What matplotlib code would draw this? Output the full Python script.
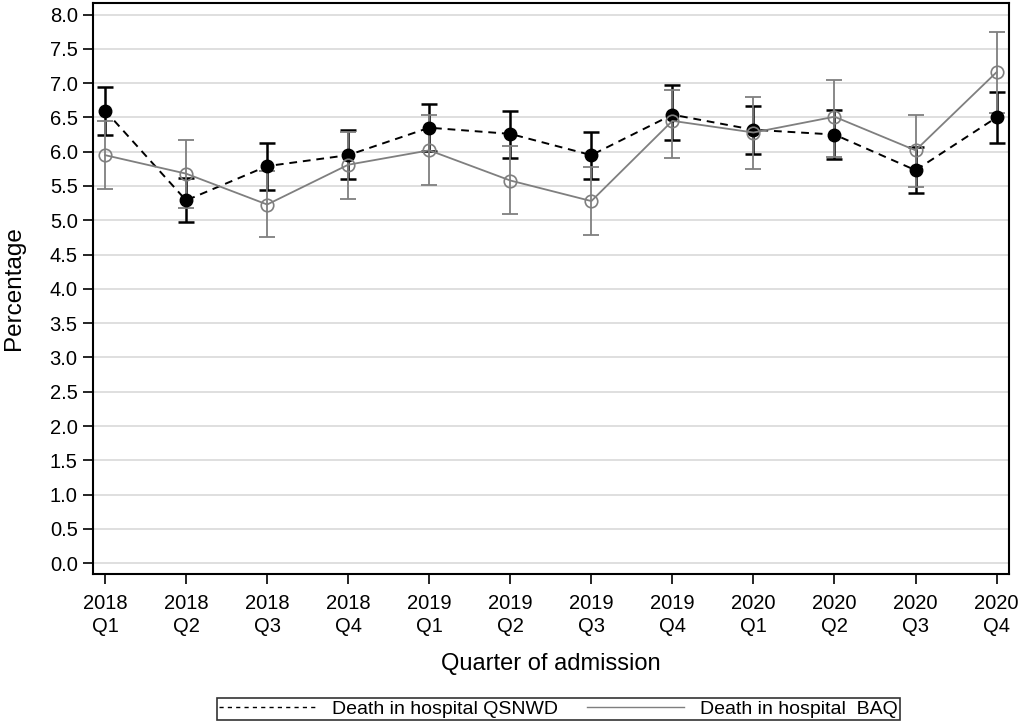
import matplotlib
matplotlib.use('Agg')
import matplotlib.pyplot as plt
import numpy as np

plt.rcParams['font.family'] = ['Liberation Sans', 'DejaVu Sans']

# quarters of admission
quarters = ['2018\nQ1', '2018\nQ2', '2018\nQ3', '2018\nQ4',
            '2019\nQ1', '2019\nQ2', '2019\nQ3', '2019\nQ4',
            '2020\nQ1', '2020\nQ2', '2020\nQ3', '2020\nQ4']

# Death in hospital QSNWD (estimate, lower, upper)
qsnwd = [6.60, 5.29, 5.79, 5.95, 6.35, 6.26, 5.95, 6.54, 6.32, 6.25, 5.73, 6.50]
qsnwd_lo = [6.25, 4.98, 5.44, 5.60, 6.01, 5.91, 5.60, 6.17, 5.96, 5.90, 5.40, 6.13]
qsnwd_hi = [6.95, 5.62, 6.12, 6.32, 6.69, 6.60, 6.29, 6.97, 6.67, 6.61, 6.07, 6.87]

# Death in hospital BAQ
baq = [5.95, 5.68, 5.23, 5.81, 6.02, 5.58, 5.28, 6.45, 6.28, 6.51, 6.02, 7.16]
baq_lo = [5.45, 5.18, 4.75, 5.31, 5.52, 5.09, 4.78, 5.91, 5.75, 5.93, 5.48, 6.57]
baq_hi = [6.45, 6.17, 5.72, 6.29, 6.53, 6.08, 5.77, 6.90, 6.80, 7.05, 6.53, 7.75]

x = np.arange(len(quarters))

fig = plt.figure(figsize=(10.21, 7.24), dpi=100)
ax = fig.add_axes([0.091, 0.207, 0.897, 0.789])

grey = '#7f7f7f'

q = np.array(qsnwd)
b = np.array(baq)
q_err = [q - np.array(qsnwd_lo), np.array(qsnwd_hi) - q]
b_err = [b - np.array(baq_lo), np.array(baq_hi) - b]

ax.errorbar(x, q, yerr=q_err, fmt='none', ecolor='black', elinewidth=1.8,
            capsize=6, capthick=1.8, zorder=3)
ax.errorbar(x, b, yerr=b_err, fmt='none', ecolor=grey, elinewidth=1.3,
            capsize=6, capthick=1.3, zorder=4)
l1, = ax.plot(x, q, color='black', linestyle=(0, (4, 3)), linewidth=1.4,
              marker='o', markersize=9, markerfacecolor='black',
              markeredgecolor='black', zorder=5,
              label='Death in hospital QSNWD')
l2, = ax.plot(x, b, color=grey, linestyle='-', linewidth=1.3,
              marker='o', markersize=9, markerfacecolor='none',
              markeredgecolor=grey, markeredgewidth=1.2, zorder=6,
              label='Death in hospital  BAQ')

ax.set_xlim(-0.15, 11.15)
ax.set_ylim(-0.16, 8.17)
ax.set_yticks(np.arange(0, 8.01, 0.5))
ax.set_yticklabels(['%.1f' % v for v in np.arange(0, 8.01, 0.5)])
ax.set_xticks(x)
ax.set_xticklabels(quarters, linespacing=1.3)
ax.yaxis.grid(True, color='#d9d9d9', linewidth=1.2)
ax.set_axisbelow(True)
ax.tick_params(labelsize=14.5, length=7, width=1.2, color='black')
ax.tick_params(axis='x', pad=7)
ax.tick_params(axis='y', pad=4)
for s in ax.spines.values():
    s.set_linewidth(1.5)

ax.set_ylabel('Percentage', fontsize=17.5)
ax.set_xlabel('Quarter of admission', fontsize=17, labelpad=12)
ax.yaxis.set_label_coords(-0.074, 0.5)

leg_l1 = plt.Line2D([], [], color='black', linestyle=(0, (3, 3)), linewidth=1)
leg_l2 = plt.Line2D([], [], color=grey, linestyle='-', linewidth=1)
leg = fig.legend([leg_l1, leg_l2],
                 ['Death in hospital QSNWD', 'Death in hospital  BAQ'],
                 loc='center', bbox_to_anchor=(0.547, 0.0205), ncol=2,
                 fontsize=14, frameon=True, fancybox=False, handlelength=5.0,
                 columnspacing=1.5, borderpad=0.12, handletextpad=0.8,
                 borderaxespad=0.2)
leg.get_frame().set_edgecolor('black')
leg.get_frame().set_linewidth(1.2)

fig.savefig('out.png', dpi=100)
